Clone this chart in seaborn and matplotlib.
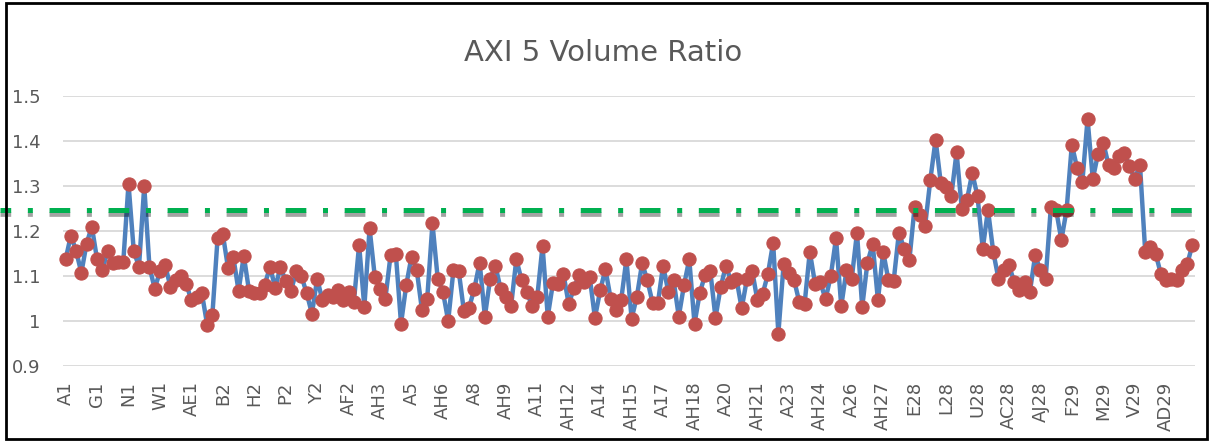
import matplotlib
matplotlib.use("Agg")
import matplotlib.pyplot as plt
import matplotlib.transforms as mtransforms
from matplotlib.lines import Line2D
from matplotlib.patches import Rectangle
import seaborn as sns
import pandas as pd

# ---------------- data ----------------
TITLE = "AXI 5 Volume Ratio"
TICK_LABELS = ["A1", "G1", "N1", "W1", "AE1", "B2", "H2", "P2", "Y2", "AF2",
               "AH3", "A5", "AH6", "A8", "AH9", "A11", "AH12", "A14", "AH15", "A17",
               "AH18", "A20", "AH21", "A23", "AH24", "A26", "AH27", "E28", "L28", "U28",
               "AC28", "AJ28", "F29", "M29", "V29", "AD29"]
TICK_EVERY = 6
RATIO = [
    1.137, 1.190, 1.156, 1.107, 1.172, 1.210,
    1.137, 1.113, 1.156, 1.130, 1.131, 1.131,
    1.305, 1.156, 1.120, 1.300, 1.120, 1.072,
    1.110, 1.124, 1.076, 1.090, 1.100, 1.083,
    1.046, 1.053, 1.062, 0.992, 1.013, 1.185,
    1.193, 1.117, 1.142, 1.067, 1.145, 1.067,
    1.063, 1.062, 1.081, 1.120, 1.074, 1.120,
    1.088, 1.067, 1.110, 1.099, 1.062, 1.016,
    1.094, 1.046, 1.057, 1.054, 1.068, 1.046,
    1.065, 1.042, 1.169, 1.031, 1.206, 1.098,
    1.072, 1.048, 1.146, 1.150, 0.994, 1.080,
    1.143, 1.113, 1.024, 1.050, 1.217, 1.094,
    1.065, 1.000, 1.113, 1.112, 1.022, 1.030,
    1.072, 1.130, 1.010, 1.094, 1.123, 1.072,
    1.054, 1.033, 1.137, 1.091, 1.065, 1.033,
    1.054, 1.167, 1.010, 1.085, 1.082, 1.104,
    1.037, 1.074, 1.102, 1.087, 1.098, 1.007,
    1.068, 1.115, 1.050, 1.025, 1.046, 1.137,
    1.005, 1.054, 1.128, 1.091, 1.040, 1.039,
    1.123, 1.065, 1.091, 1.010, 1.080, 1.137,
    0.994, 1.062, 1.102, 1.112, 1.007, 1.076,
    1.123, 1.087, 1.094, 1.028, 1.093, 1.112,
    1.046, 1.060, 1.104, 1.174, 0.972, 1.126,
    1.107, 1.091, 1.042, 1.037, 1.154, 1.083,
    1.087, 1.048, 1.100, 1.184, 1.033, 1.113,
    1.094, 1.196, 1.031, 1.130, 1.171, 1.046,
    1.154, 1.091, 1.089, 1.196, 1.161, 1.135,
    1.254, 1.236, 1.211, 1.314, 1.403, 1.306,
    1.297, 1.277, 1.375, 1.250, 1.270, 1.329,
    1.277, 1.161, 1.247, 1.154, 1.094, 1.113,
    1.124, 1.087, 1.068, 1.087, 1.065, 1.146,
    1.113, 1.094, 1.254, 1.247, 1.180, 1.247,
    1.392, 1.340, 1.308, 1.449, 1.315, 1.372,
    1.396, 1.347, 1.340, 1.366, 1.373, 1.344,
    1.316, 1.347, 1.154, 1.165, 1.149, 1.104,
    1.091, 1.094, 1.091, 1.113, 1.126, 1.169,
]
THRESHOLD = 1.247
Y_TICKS = [0.9, 1.0, 1.1, 1.2, 1.3, 1.4, 1.5]

# ---------------- style ----------------
sns.set_style("white")
plt.rcParams["font.family"] = ["DejaVu Sans"]
plt.rcParams["lines.scale_dashes"] = False

W, H, DPI = 1210, 441, 100
fig = plt.figure(figsize=(W / DPI, H / DPI), dpi=DPI)
ax = fig.add_axes([63 / W, 1 - 366 / H, (1195 - 63) / W, (366 - 96) / H])

df = pd.DataFrame({"idx": range(len(RATIO)), "ratio": RATIO})
sns.lineplot(data=df, x="idx", y="ratio", ax=ax, sort=False,
             color="#4F81BD", linewidth=3.2, marker="o", markersize=9.5,
             markerfacecolor="#C0504D", markeredgecolor="#C0504D",
             markeredgewidth=0.8, zorder=3, clip_on=False)

ax.set_xlim(-0.5, len(RATIO) - 0.5)
ax.set_ylim(0.9, 1.5)
ax.set_yticks(Y_TICKS)
ax.set_yticklabels([f"{v:g}" for v in Y_TICKS])
ax.set_xticks(range(0, len(RATIO), TICK_EVERY))
ax.set_xticklabels(TICK_LABELS, rotation=90)
ax.tick_params(axis="both", length=0, labelsize=13, labelcolor="#595959")
ax.tick_params(axis="y", pad=16)
ax.tick_params(axis="x", pad=11)
ax.set_xlabel("")
ax.set_ylabel("")
ax.grid(axis="y", color="#D9D9D9", linewidth=1.3)
ax.grid(axis="x", visible=False)
for s in ax.spines.values():
    s.set_visible(False)

# threshold dash-dot line with shadow (spans beyond plot area)
trans = mtransforms.blended_transform_factory(fig.transFigure, ax.transData)
dash = (7.2, (14.9, 12.0, 3.6, 12.0))
shadow_tr = trans + mtransforms.ScaledTranslation(0, -4 / DPI, fig.dpi_scale_trans)
ax.add_line(Line2D([0, 1202 / W], [THRESHOLD, THRESHOLD], transform=shadow_tr,
                   color="black", alpha=0.36, linewidth=3.4, linestyle=dash,
                   solid_capstyle="butt", dash_capstyle="butt", clip_on=False, zorder=5))
ax.add_line(Line2D([0, 1202 / W], [THRESHOLD, THRESHOLD], transform=trans,
                   color="#00B050", linewidth=3.6, linestyle=dash,
                   dash_capstyle="butt", clip_on=False, zorder=6))

fig.text(603.5 / W, 1 - 61 / H, TITLE, ha="center", va="baseline",
         fontsize=21, color="#595959")

# chart border
fig.add_artist(Rectangle((6 / W, 2.5 / H), (1206.5 - 6) / W, (438.5 - 2.5) / H,
                         transform=fig.transFigure, fill=False,
                         edgecolor="black", linewidth=2.0))

fig.savefig("out.png", dpi=DPI)
